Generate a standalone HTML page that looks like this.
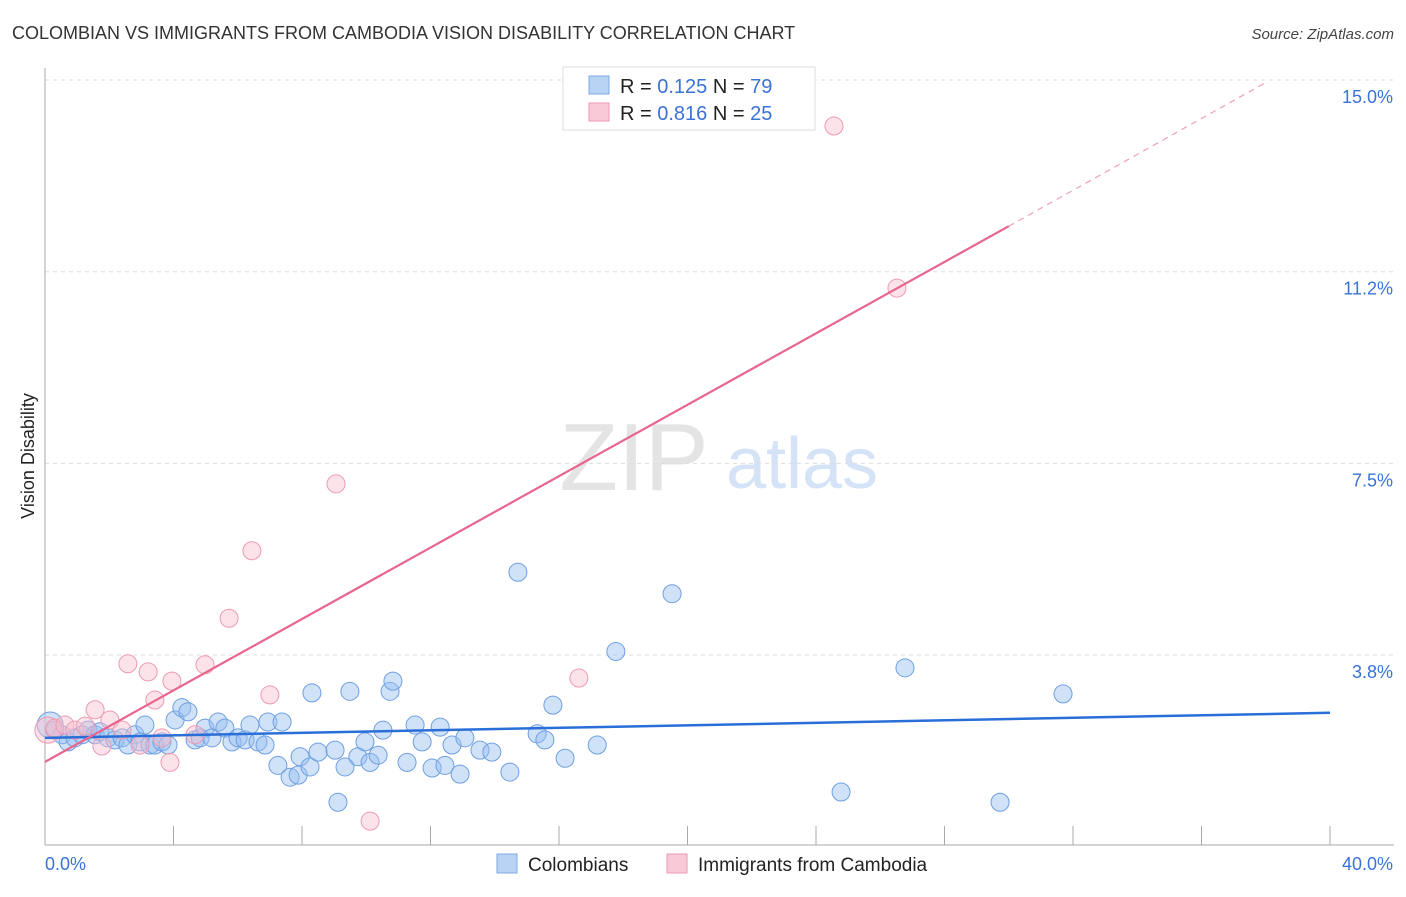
<!DOCTYPE html>
<html><head><meta charset="utf-8"><style>
body{margin:0;background:#fff;font-family:"Liberation Sans",sans-serif;}
svg text{font-family:"Liberation Sans",sans-serif;}
</style></head><body>
<svg id="chart" width="1406" height="892" xmlns="http://www.w3.org/2000/svg">
<text x="12" y="39" font-size="18" fill="#333">COLOMBIAN VS IMMIGRANTS FROM CAMBODIA VISION DISABILITY CORRELATION CHART</text>
<text x="1394" y="39" font-size="15" fill="#444" text-anchor="end" font-style="italic">Source: ZipAtlas.com</text>
<text transform="translate(34,456) rotate(-90)" font-size="18" fill="#222" text-anchor="middle">Vision Disability</text>
<g>
<text x="634" y="490" font-size="96" fill="#e4e4e4" text-anchor="middle" font-family="Liberation Serif,serif">ZIP</text>
<text x="802" y="488" font-size="72" fill="#d5e3f6" text-anchor="middle">atlas</text>
</g>
<g id="grid"></g><g id="axes"></g><g id="pts"></g><g id="lines"></g>
<g>
<rect x="563" y="67" width="252" height="63" fill="#fff" stroke="#ddd"/>
<rect x="589" y="76" width="20" height="18" fill="#b9d3f4" stroke="#7fa9e6"/>
<text x="620" y="93" font-size="20" fill="#222">R = <tspan fill="#3a72d8">0.125</tspan>   N = <tspan fill="#3a72d8">79</tspan></text>
<rect x="589" y="103" width="20" height="18" fill="#f8c9d6" stroke="#ec9ab2"/>
<text x="620" y="120" font-size="20" fill="#222">R = <tspan fill="#3a72d8">0.816</tspan>   N = <tspan fill="#3a72d8">25</tspan></text>
</g>
<g>
<rect x="497" y="854" width="20" height="19" fill="#b9d3f4" stroke="#7fa9e6"/>
<text x="528" y="871" font-size="19" fill="#222">Colombians</text>
<rect x="667" y="854" width="20" height="19" fill="#f8c9d6" stroke="#ec9ab2"/>
<text x="698" y="871" font-size="19" fill="#222">Immigrants from Cambodia</text>
</g>
</svg>
<script>
const xTickLabels=["0.0%","40.0%"];
const yTicks=[3.75,7.5,11.25,15];
const yTickLabels=["3.8%","7.5%","11.2%","15.0%"];
const blueX=[0.16,0.31,0.53,0.72,0.93,1.15,1.34,1.56,1.71,1.96,2.18,2.40,2.58,2.80,2.96,3.11,3.27,3.42,3.64,3.83,4.05,4.26,4.45,4.67,4.83,4.98,5.20,5.39,5.60,5.82,6.01,6.23,6.38,6.63,6.85,6.94,7.38,7.25,7.63,7.88,7.94,8.25,8.31,8.50,9.03,9.12,9.34,9.49,9.74,9.96,10.12,10.37,10.52,10.74,10.83,11.27,11.52,11.74,12.05,12.30,12.45,12.67,12.92,13.07,13.54,13.91,14.47,14.72,15.32,15.56,15.81,16.19,17.19,17.77,19.52,24.78,26.77,29.73,31.69];
const blueY=[2.38,2.28,2.19,2.05,2.13,2.19,2.28,2.19,2.25,2.13,2.09,2.13,1.99,2.19,2.05,2.38,1.99,1.99,2.05,1.99,2.48,2.72,2.64,2.09,2.13,2.32,2.13,2.44,2.32,2.05,2.13,2.09,2.38,2.05,1.99,2.44,2.44,1.59,1.36,1.40,1.76,1.56,3.01,1.85,1.89,0.87,1.56,3.04,1.76,2.05,1.65,1.79,2.28,3.04,3.24,1.65,2.38,2.05,1.54,2.34,1.59,1.99,1.42,2.13,1.89,1.85,1.46,5.37,2.21,2.09,2.77,1.73,1.99,3.82,4.95,1.07,3.50,0.87,2.99];
const blueR=[13,9,9,9,9,9,9,9,9,9,9,9,9,9,9,9,9,9,9,9,9,9,9,9,9,9,9,9,9,9,9,9,9,9,9,9,9,9,9,9,9,9,9,9,9,9,9,9,9,9,9,9,9,9,9,9,9,9,9,9,9,9,9,9,9,9,9,9,9,9,9,9,9,9,9,9,9,9,9];
const pinkX=[0.09,0.31,0.62,0.93,1.25,1.56,1.77,2.02,2.40,2.58,2.96,3.21,3.42,3.64,3.89,3.95,4.67,4.98,5.73,6.44,7.00,9.06,10.12,16.62,24.56,26.52];
const pinkY=[2.28,2.32,2.38,2.28,2.36,2.68,1.97,2.48,2.28,3.58,1.99,3.42,2.87,2.13,1.65,3.24,2.19,3.56,4.47,5.79,2.97,7.10,0.50,3.30,14.10,10.93];
const pinkR=[13,9,9,9,9,9,9,9,9,9,9,9,9,9,9,9,9,9,9,9,9,9,9,9,9,9];
const blueLine=[[0,2.13],[40,2.62]];
const pinkLine=[[0,1.66],[30,12.14]];
const pinkDash=[[30,12.14],[38,14.95]];
const NS="http://www.w3.org/2000/svg";
const X=v=>45+v*(1285/40);
const Y=v=>846.7-v*51.11;
function mk(tag,attrs,parent){const e=document.createElementNS(NS,tag);for(const k in attrs)e.setAttribute(k,attrs[k]);document.getElementById(parent).appendChild(e);return e;}
yTicks.forEach((t,i)=>{
 const g=mk('line',{x1:45,x2:1394,y1:Y(t),y2:Y(t),stroke:'#ddd','stroke-dasharray':'4,4'},'grid');
 
 
 const tx=mk('text',{x:1393,y:Y(t)+23,'font-size':18,fill:'#3a72d8','text-anchor':'end'},'axes');
 tx.textContent=yTickLabels[i];
 
 
});
const ax=mk('line',{x1:45,x2:45,y1:68,y2:845,stroke:'#aaa'},'axes');


const bx=mk('line',{x1:45,x2:1394,y1:845,y2:845,stroke:'#aaa'},'axes');


for(let i=1;i<=10;i++){
 const t=mk('line',{x1:X(i*4),x2:X(i*4),y1:826,y2:845,stroke:'#aaa'},'axes');
 
 
}
const xl0=mk('text',{x:45,y:870,'font-size':18,fill:'#3a72d8'},'axes');xl0.textContent=xTickLabels[0];


const xl1=mk('text',{x:1393,y:870,'font-size':18,fill:'#3a72d8','text-anchor':'end'},'axes');xl1.textContent=xTickLabels[1];


blueX.forEach((v,i)=>{
 const c=mk('circle',{cx:X(v),cy:Y(blueY[i]),r:blueR[i],fill:'rgba(150,190,240,0.45)',stroke:'#6f9fe2','stroke-width':1},'pts');
 
 
});
pinkX.forEach((v,i)=>{
 const c=mk('circle',{cx:X(v),cy:Y(pinkY[i]),r:pinkR[i],fill:'rgba(248,190,206,0.45)',stroke:'#ee9ab2','stroke-width':1},'pts');
 
 
});
const bl=mk('line',{x1:X(blueLine[0][0]),y1:Y(blueLine[0][1]),x2:X(blueLine[1][0]),y2:Y(blueLine[1][1]),stroke:'#2a6fd8','stroke-width':2.5},'lines');


const pl=mk('line',{x1:X(pinkLine[0][0]),y1:Y(pinkLine[0][1]),x2:X(pinkLine[1][0]),y2:Y(pinkLine[1][1]),stroke:'#e8658e','stroke-width':2.2},'lines');


const pd=mk('line',{x1:X(pinkDash[0][0]),y1:Y(pinkDash[0][1]),x2:X(pinkDash[1][0]),y2:Y(pinkDash[1][1]),stroke:'#eea0b8','stroke-width':1.2,'stroke-dasharray':'6,5'},'lines');


</script>
</body></html>
